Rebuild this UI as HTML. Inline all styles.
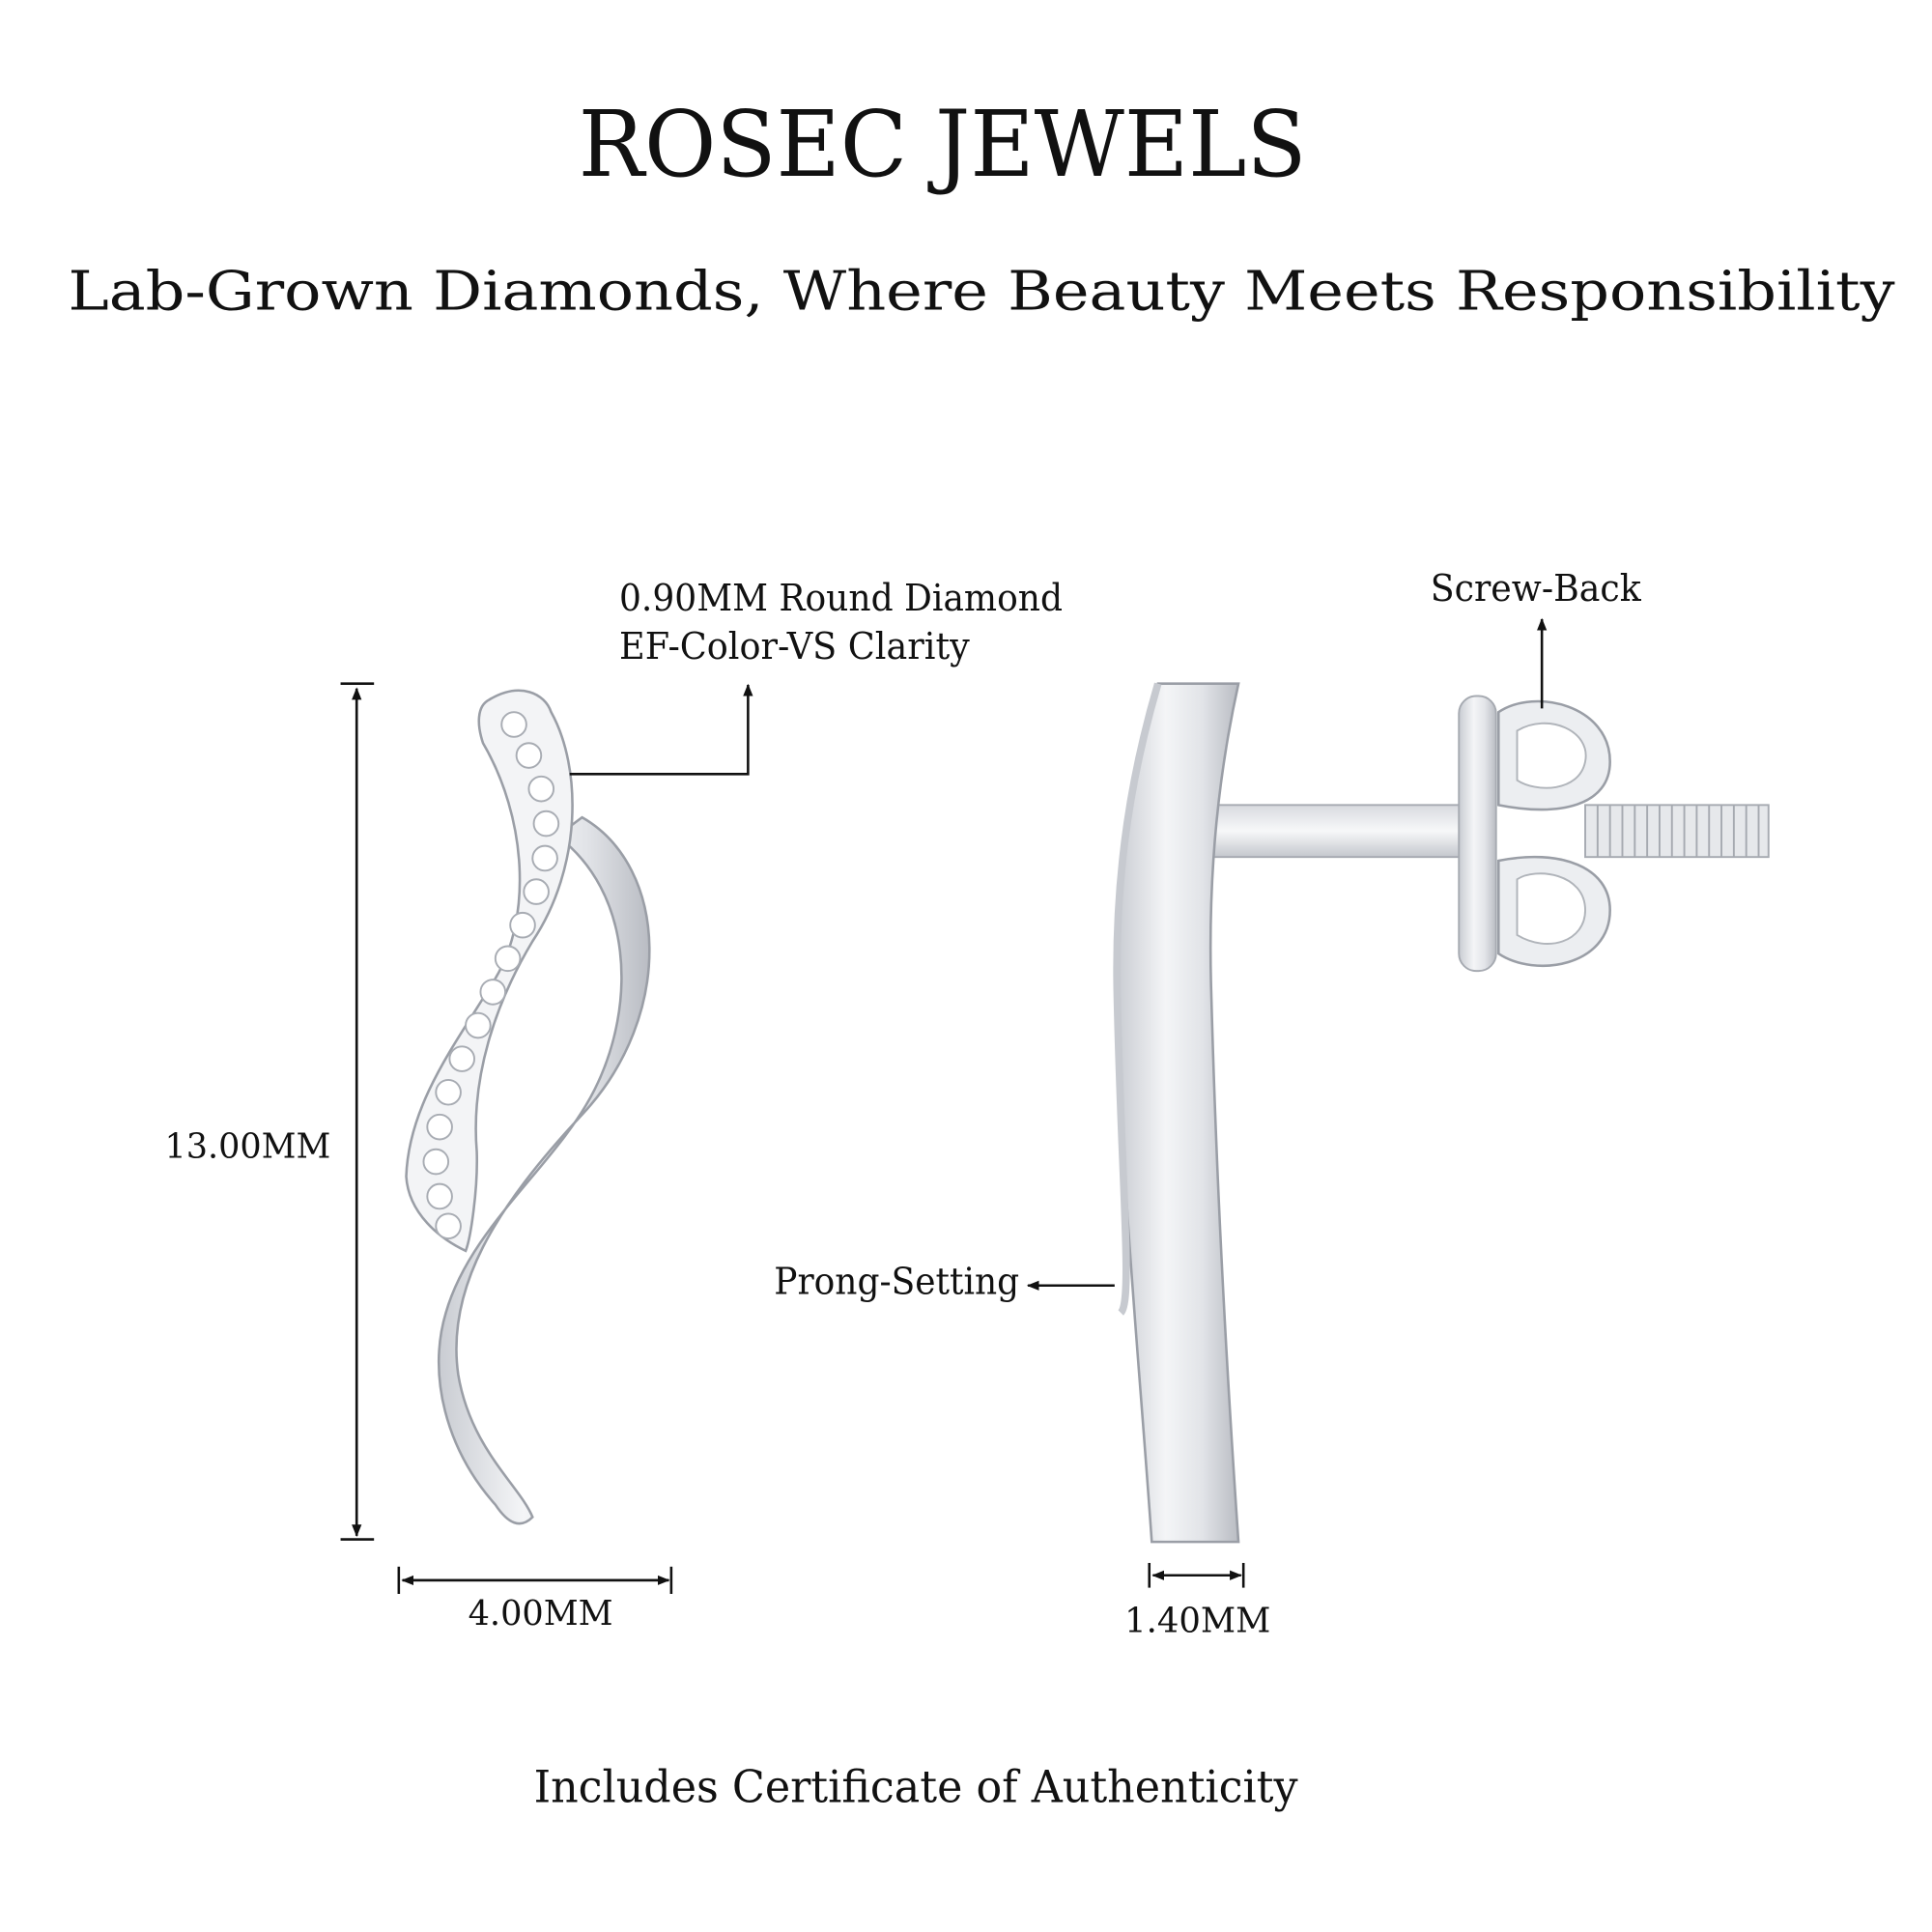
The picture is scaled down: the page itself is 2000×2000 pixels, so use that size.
<!DOCTYPE html>
<html><head><meta charset="utf-8"><style>
html,body{margin:0;padding:0;background:#fff;}
svg{display:block;}
text{font-family:"DejaVu Serif","Liberation Serif",serif;fill:#111;}
</style></head><body>
<svg width="2000" height="2000" viewBox="0 0 1560 1560" xmlns="http://www.w3.org/2000/svg">
<defs>
<linearGradient id="met" x1="0" x2="1" y1="0" y2="0">
<stop offset="0" stop-color="#c9ccd2"/><stop offset="0.4" stop-color="#f4f5f7"/><stop offset="0.7" stop-color="#e2e4e8"/><stop offset="1" stop-color="#b9bcc3"/>
</linearGradient>
<linearGradient id="met2" x1="0" x2="0" y1="0" y2="1">
<stop offset="0" stop-color="#d8dadf"/><stop offset="0.5" stop-color="#f7f8f9"/><stop offset="1" stop-color="#c4c7cd"/>
</linearGradient>
<marker id="ar" markerWidth="10" markerHeight="10" refX="9" refY="5" orient="auto" markerUnits="userSpaceOnUse"><path d="M0,1 L10,5 L0,9 Z" fill="#111"/></marker>
</defs>
<text x="467" y="142" font-size="74" textLength="588" lengthAdjust="spacingAndGlyphs">ROSEC JEWELS</text>
<text x="55" y="250" font-size="44" textLength="1475" lengthAdjust="spacingAndGlyphs">Lab-Grown Diamonds, Where Beauty Meets Responsibility</text>

<!-- left earring -->
<path d="M470,660 C540,700 545,820 470,900 C400,975 360,1040 370,1110 C380,1170 420,1200 430,1225 C420,1235 410,1230 400,1215 C360,1170 345,1110 360,1060 C380,990 450,940 480,880 C515,810 510,720 450,675 Z" fill="url(#met)" stroke="#9a9ea6" stroke-width="2"/>
<path d="M395,565 C420,550 440,560 445,575 C470,620 470,700 430,760 C400,810 380,870 385,930 C386,960 380,1000 376,1010 C355,1000 330,980 328,950 C330,890 370,840 400,790 C430,740 425,660 390,600 C385,585 385,570 395,565 Z" fill="#f3f4f6" stroke="#9a9ea6" stroke-width="2"/>
<g fill="#fff" stroke="#a8acb3" stroke-width="1.5">
<circle cx="415" cy="585" r="10"/><circle cx="427" cy="610" r="10"/><circle cx="437" cy="637" r="10"/><circle cx="441" cy="665" r="10"/><circle cx="440" cy="693" r="10"/><circle cx="433" cy="720" r="10"/><circle cx="422" cy="747" r="10"/><circle cx="410" cy="774" r="10"/><circle cx="398" cy="801" r="10"/><circle cx="386" cy="828" r="10"/><circle cx="373" cy="855" r="10"/><circle cx="362" cy="882" r="10"/><circle cx="355" cy="910" r="10"/><circle cx="352" cy="938" r="10"/><circle cx="355" cy="966" r="10"/><circle cx="362" cy="990" r="10"/>
</g>

<g stroke="#111" stroke-width="2" fill="none">
<line x1="275" y1="552" x2="302" y2="552"/><line x1="275" y1="1243" x2="302" y2="1243"/>
<line x1="288" y1="556" x2="288" y2="1240" marker-end="url(#ar)"/>
<line x1="288" y1="1240" x2="288" y2="556" marker-end="url(#ar)"/>
<line x1="322" y1="1265" x2="322" y2="1287"/><line x1="542" y1="1265" x2="542" y2="1287"/>
<line x1="325" y1="1276" x2="540" y2="1276" marker-end="url(#ar)"/>
<line x1="540" y1="1276" x2="325" y2="1276" marker-end="url(#ar)"/>
<polyline points="460,625 604,625 604,553" marker-end="url(#ar)"/>
</g>
<text x="133" y="935" font-size="28" textLength="134" lengthAdjust="spacingAndGlyphs">13.00MM</text>
<text x="378" y="1312" font-size="28" textLength="117" lengthAdjust="spacingAndGlyphs">4.00MM</text>
<text x="500" y="493" font-size="30" textLength="358" lengthAdjust="spacingAndGlyphs">0.90MM Round Diamond</text>
<text x="500" y="532" font-size="30" textLength="283" lengthAdjust="spacingAndGlyphs">EF-Color-VS Clarity</text>

<!-- right earring side view -->
<rect x="975" y="650" width="220" height="42" fill="url(#met2)" stroke="#a6aab1" stroke-width="1.5"/>
<rect x="1280" y="650" width="148" height="42" fill="#e6e8eb" stroke="#a6aab1" stroke-width="1.5"/>
<g stroke="#a6aab1" stroke-width="1.5">
<line x1="1290" y1="650" x2="1290" y2="692"/><line x1="1300" y1="650" x2="1300" y2="692"/><line x1="1310" y1="650" x2="1310" y2="692"/><line x1="1320" y1="650" x2="1320" y2="692"/><line x1="1330" y1="650" x2="1330" y2="692"/><line x1="1340" y1="650" x2="1340" y2="692"/><line x1="1350" y1="650" x2="1350" y2="692"/><line x1="1360" y1="650" x2="1360" y2="692"/><line x1="1370" y1="650" x2="1370" y2="692"/><line x1="1380" y1="650" x2="1380" y2="692"/><line x1="1390" y1="650" x2="1390" y2="692"/><line x1="1400" y1="650" x2="1400" y2="692"/><line x1="1410" y1="650" x2="1410" y2="692"/><line x1="1420" y1="650" x2="1420" y2="692"/>
</g>
<rect x="1178" y="562" width="30" height="222" rx="14" fill="url(#met)" stroke="#a6aab1" stroke-width="1.5"/>
<path d="M1210,575 C1240,555 1300,570 1300,615 C1300,650 1260,660 1210,650 Z" fill="#eceef1" stroke="#9a9ea6" stroke-width="2"/>
<path d="M1210,695 C1260,685 1300,700 1300,735 C1300,780 1240,790 1210,770 Z" fill="#eceef1" stroke="#9a9ea6" stroke-width="2"/>
<path d="M1225,590 C1250,575 1285,590 1280,615 C1275,640 1240,640 1225,630 Z" fill="#fff" stroke="#b0b4ba" stroke-width="1.5"/>
<path d="M1225,710 C1240,700 1280,705 1280,735 C1280,760 1250,770 1225,755 Z" fill="#fff" stroke="#b0b4ba" stroke-width="1.5"/>
<path d="M935,552 L1000,552 C985,620 975,700 978,800 C982,950 990,1100 1000,1245 L930,1245 C920,1100 905,950 902,800 C900,700 915,620 935,552 Z" fill="url(#met)" stroke="#9a9ea6" stroke-width="2"/>
<path d="M935,552 C915,620 900,700 902,800 C905,950 915,1050 905,1060" fill="none" stroke="#c7cad0" stroke-width="6"/>

<g stroke="#111" stroke-width="2" fill="none">
<line x1="1245" y1="572" x2="1245" y2="500" marker-end="url(#ar)"/>
<line x1="900" y1="1038" x2="830" y2="1038" marker-end="url(#ar)"/>
<line x1="928" y1="1262" x2="928" y2="1282"/><line x1="1004" y1="1262" x2="1004" y2="1282"/>
<line x1="931" y1="1272" x2="1002" y2="1272" marker-end="url(#ar)"/>
<line x1="1002" y1="1272" x2="931" y2="1272" marker-end="url(#ar)"/>
</g>
<text x="1155" y="485" font-size="30" textLength="170" lengthAdjust="spacingAndGlyphs">Screw-Back</text>
<text x="625" y="1045" font-size="30" textLength="198" lengthAdjust="spacingAndGlyphs">Prong-Setting</text>
<text x="908" y="1318" font-size="28" textLength="118" lengthAdjust="spacingAndGlyphs">1.40MM</text>

<text x="431" y="1455" font-size="36" textLength="617" lengthAdjust="spacingAndGlyphs">Includes Certificate of Authenticity</text>
</svg>
</body></html>
